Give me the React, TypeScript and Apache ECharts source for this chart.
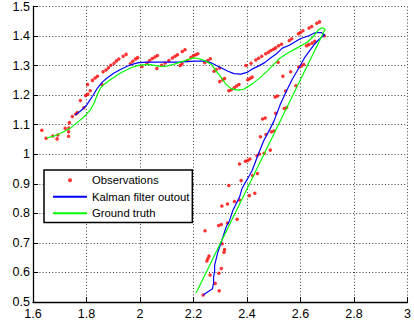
import React, { useEffect, useRef } from "react";
import * as echarts from "echarts";

// Observations (x, y)
const obsX: number[] = [
  1.633, 1.649, 1.674, 1.69, 1.693, 1.72, 1.733, 1.733, 1.734, 1.736, 1.747, 1.76, 1.766, 1.777, 1.79, 1.797,
  1.805, 1.804, 1.814, 1.822, 1.832, 1.841, 1.858, 1.862, 1.873, 1.882, 1.891, 1.903, 1.912, 1.921, 1.937, 1.948,
  1.964, 1.973, 1.983, 1.991, 2.007, 2.026, 2.036, 2.046, 2.056, 2.065, 2.063, 2.081, 2.094, 2.108, 2.121, 2.131,
  2.14, 2.15, 2.157, 2.158, 2.168, 2.178, 2.19, 2.199, 2.208, 2.216, 2.242, 2.253, 2.263, 2.277, 2.285, 2.298,
  2.298, 2.309, 2.316, 2.332, 2.341, 2.352, 2.361, 2.37, 2.396, 2.403, 2.411, 2.419, 2.415, 2.433, 2.443, 2.455,
  2.47, 2.48, 2.489, 2.499, 2.507, 2.518, 2.529, 2.516, 2.534, 2.544, 2.505, 2.514, 2.563, 2.583, 2.593, 2.603,
  2.612, 2.558, 2.567, 2.592, 2.6, 2.609, 2.622, 2.631, 2.643, 2.653, 2.632, 2.642, 2.661, 2.671, 2.689,
  2.539, 2.548, 2.507, 2.458, 2.468, 2.45, 2.491, 2.501, 2.471, 2.487, 2.464, 2.446, 2.437, 2.411, 2.403, 2.394,
  2.372, 2.421, 2.439, 2.378, 2.332, 2.409, 2.429, 2.372, 2.306, 2.327, 2.353, 2.363, 2.327, 2.294, 2.304, 2.243,
  2.307, 2.316, 2.314, 2.258, 2.254, 2.25, 2.304, 2.295, 2.262, 2.281, 2.296, 2.236,
];
const obsY: number[] = [
  1.081, 1.054, 1.062, 1.052, 1.065, 1.088, 1.061, 1.076, 1.089, 1.107, 1.128, 1.136, 1.141, 1.182, 1.157, 1.199,
  1.203, 1.236, 1.215, 1.25, 1.258, 1.264, 1.236, 1.279, 1.285, 1.293, 1.301, 1.308, 1.316, 1.322, 1.332, 1.338,
  1.306, 1.315, 1.322, 1.327, 1.297, 1.309, 1.317, 1.324, 1.329, 1.334, 1.29, 1.301, 1.309, 1.317, 1.326, 1.332,
  1.337, 1.3, 1.306, 1.348, 1.354, 1.317, 1.327, 1.333, 1.337, 1.34, 1.31, 1.317, 1.323, 1.281, 1.287, 1.292,
  1.246, 1.252, 1.256, 1.215, 1.218, 1.225, 1.231, 1.236, 1.3, 1.252, 1.256, 1.261, 1.308, 1.319, 1.325, 1.332,
  1.34, 1.345, 1.351, 1.355, 1.36, 1.367, 1.372, 1.311, 1.264, 1.214, 1.194, 1.197, 1.279, 1.232, 1.295, 1.299,
  1.304, 1.385, 1.391, 1.408, 1.412, 1.418, 1.367, 1.371, 1.376, 1.382, 1.427, 1.432, 1.443, 1.448, 1.401,
  1.155, 1.158, 1.139, 1.119, 1.123, 1.059, 1.076, 1.079, 1.067, 1.014, 1.003, 1.001, 0.995, 0.984, 0.979, 0.976,
  0.967, 0.928, 0.935, 0.911, 0.894, 0.86, 0.868, 0.845, 0.825, 0.832, 0.84, 0.78, 0.767, 0.759, 0.762, 0.741,
  0.697, 0.678, 0.668, 0.656, 0.647, 0.639, 0.613, 0.597, 0.591, 0.563, 0.538, 0.524,
];

// Kalman filter output (x, y)
const kalmanX: number[] = [
  2.236, 2.254, 2.271, 2.275, 2.275, 2.279, 2.279, 2.285, 2.291, 2.3, 2.31, 2.322, 2.335, 2.347, 2.359, 2.372,
  2.381, 2.394, 2.409, 2.419, 2.44, 2.462, 2.482, 2.501, 2.525, 2.544, 2.569, 2.594, 2.614, 2.637, 2.654, 2.668,
  2.68, 2.69, 2.677, 2.654, 2.631, 2.599, 2.558, 2.532, 2.514, 2.484, 2.466, 2.446, 2.421, 2.403, 2.377, 2.351,
  2.329, 2.291, 2.267, 2.242, 2.205, 2.143, 2.081, 2.032, 1.995, 1.977, 1.952, 1.927, 1.903, 1.878, 1.859, 1.841,
  1.823, 1.801, 1.78, 1.758,
];
const kalmanY: number[] = [
  0.524, 0.535, 0.545, 0.564, 0.584, 0.604, 0.625, 0.647, 0.669, 0.692, 0.72, 0.754, 0.776, 0.81, 0.832, 0.855,
  0.883, 0.905, 0.928, 0.944, 0.995, 1.045, 1.079, 1.113, 1.17, 1.207, 1.254, 1.292, 1.325, 1.354, 1.374, 1.388,
  1.397, 1.404, 1.412, 1.411, 1.401, 1.391, 1.369, 1.359, 1.343, 1.323, 1.31, 1.3, 1.289, 1.278, 1.271, 1.273,
  1.281, 1.298, 1.309, 1.315, 1.315, 1.312, 1.312, 1.312, 1.31, 1.306, 1.298, 1.287, 1.275, 1.259, 1.244, 1.224,
  1.197, 1.167, 1.148, 1.133,
];

// Ground truth (x, y)
const truthX: number[] = [
  2.21, 2.692, 2.68, 2.667, 2.651, 2.625, 2.588, 2.551, 2.52, 2.477, 2.451, 2.421, 2.388, 2.366, 2.341, 2.322,
  2.304, 2.285, 2.267, 2.242, 2.217, 2.199, 2.168, 2.131, 2.094, 2.069, 2.032, 1.995, 1.964, 1.927, 1.89, 1.868,
  1.853, 1.841, 1.829, 1.816, 1.798, 1.773, 1.742, 1.717, 1.68, 1.651,
];
const truthY: number[] = [
  0.531, 1.423, 1.428, 1.421, 1.402, 1.379, 1.36, 1.342, 1.323, 1.283, 1.261, 1.239, 1.22, 1.217, 1.222, 1.236,
  1.259, 1.281, 1.304, 1.317, 1.324, 1.326, 1.317, 1.306, 1.297, 1.298, 1.304, 1.301, 1.292, 1.275, 1.253, 1.238,
  1.225, 1.203, 1.174, 1.152, 1.133, 1.113, 1.09, 1.077, 1.062, 1.055,
];

const legendNames: string[] = ["Observations", "Kalman filter outout", "Ground truth"];

const pairs = (xs: number[], ys: number[]) => xs.map((x, i) => [x, ys[i]]);

export default function App() {
  const ref = useRef<HTMLDivElement>(null);
  useEffect(() => {
    if (!ref.current) return;
    const chart = echarts.init(ref.current, undefined, { renderer: "svg" });
    const font = "'Liberation Sans', Arial, Helvetica, sans-serif";
    const grid = { type: [1, 2.2] as any, color: "#3a3a3a", width: 1 };
    chart.setOption({
      animation: false,
      backgroundColor: "#ffffff",
      grid: { left: 33, top: 5, width: 378, height: 297, containLabel: false },
      xAxis: {
        type: "value",
        min: 1.6,
        max: 3,
        interval: 0.2,
        axisLine: { show: true, onZero: false, lineStyle: { color: "#000", width: 1.3 } },
        axisTick: { show: true, inside: true, length: 5, lineStyle: { color: "#000" } },
        axisLabel: { color: "#000", fontSize: 12.5, fontFamily: font, margin: 5 },
        splitLine: { show: true, lineStyle: grid },
      },
      yAxis: {
        type: "value",
        min: 0.5,
        max: 1.5,
        interval: 0.1,
        axisLine: { show: true, onZero: false, lineStyle: { color: "#000", width: 1.3 } },
        axisTick: { show: true, inside: true, length: 5, lineStyle: { color: "#000" } },
        axisLabel: { color: "#000", fontSize: 12.5, fontFamily: font, margin: 3 },
        splitLine: { show: true, lineStyle: grid },
      },
      legend: {
        show: true,
        orient: "vertical",
        left: 44,
        top: 170,
        padding: [3, 3, 2, 8],
        itemWidth: 34,
        itemHeight: 4,
        itemGap: 2,
        selectedMode: false,
        borderColor: "#000",
        borderWidth: 1.5,
        backgroundColor: "#ffffff",
        textStyle: { color: "#000", fontSize: 11.3, fontFamily: font, lineHeight: 14.5 },
        data: [
          { name: legendNames[0], icon: "circle" },
          { name: legendNames[1], itemStyle: { opacity: 0 } },
          { name: legendNames[2], itemStyle: { opacity: 0 } },
        ],
      },
      series: [
        {
          name: legendNames[0],
          type: "scatter",
          symbol: "circle",
          symbolSize: 3.5,
          itemStyle: { color: "#ff0000" },
          data: pairs(obsX, obsY),
        },
        {
          name: legendNames[1],
          type: "line",
          symbol: "none",
          smooth: false,
          lineStyle: { color: "#0000ff", width: 1.2 },
          itemStyle: { color: "#0000ff" },
          data: pairs(kalmanX, kalmanY),
        },
        {
          name: legendNames[2],
          type: "line",
          symbol: "none",
          smooth: false,
          lineStyle: { color: "#00ff00", width: 1.2 },
          itemStyle: { color: "#00ff00" },
          data: pairs(truthX, truthY),
        },
      ],
    });
    return () => chart.dispose();
  }, []);
  return (
    <div
      ref={ref}
      style={{ position: "fixed", left: 0, top: 0, width: 414, height: 321, background: "#fff" }}
    />
  );
}
